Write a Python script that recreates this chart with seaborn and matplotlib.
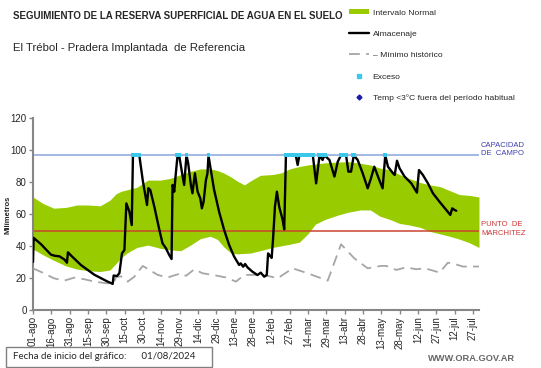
import matplotlib
matplotlib.use('agg')
import matplotlib.pyplot as plt
from matplotlib.patches import Patch, Rectangle
from matplotlib.lines import Line2D
import numpy as np
import pandas as pd
import seaborn as sns

# --- data (days since 01/08/2024, mm) ---
band_dias = [0, 8, 17, 27, 36, 45, 55, 63, 68, 72, 77, 85, 94, 104, 112, 121, 129, 137, 145, 151,
             156, 162, 167, 173, 178, 186, 196, 203, 210, 218, 225, 231, 239, 250, 258, 268, 276, 284, 292, 300,
             308, 317, 325, 333, 341, 349, 357, 365]
band_sup = [70.5, 66.5, 63.5, 64, 65.5, 65.5, 65, 68.5, 72.5, 74, 75, 76.5, 81, 81, 82, 84.5, 86.5, 88, 88, 87,
            85.5, 83, 80.5, 78, 80.5, 84, 84.5, 85.5, 88, 89.5, 90.5, 91, 91.8, 92.3, 92.5, 91.5, 90.5, 88.5, 87.5, 84.5,
            82, 79.5, 78, 77, 74.5, 72, 71.5, 70.5]
band_inf = [38, 34.5, 31, 27.5, 25.5, 24.5, 24, 25, 29, 32.5, 35.5, 39, 40.5, 38.5, 37.5, 37, 40.5, 44.5, 46, 44,
            39.5, 35.5, 35, 35.3, 35.5, 37, 39, 40, 41, 42.3, 47.5, 53.5, 56.5, 59.3, 61, 62.4, 62.4, 58.5, 56.5, 54,
            53, 51.5, 49, 47.5, 46, 44.2, 42, 39]

alm_dias = [0, 0.5, 6.6, 14.7, 18, 21.6, 25.7, 27.8, 28.6, 31.1, 39.3, 50.2, 61.1, 65.2, 66, 68.8, 70.7, 72.8, 74.8,
            76.4, 78.9, 80.8, 81.8, 87, 89.8, 93.3, 94.4, 96, 99.3, 103.4, 106, 108.8, 111.5, 113.4, 114.2, 115.6,
            116.9, 118.3, 119.6, 121.8, 123.7, 125.6, 127, 129.2, 130.5, 132.5, 134.7, 136.9, 138.2, 139.6, 141.5,
            142.8, 143.6, 145.5, 148.2, 152.3, 156.4, 160.5, 164.6, 168.7, 170, 172, 173.6, 175.5, 179.6, 183.7,
            186.4, 189.2, 191.3, 192.4, 194, 195.3, 196.4, 198, 199.6, 201.5, 204.3, 205.6, 207, 215, 216.6, 218,
            229, 231.7, 234.5, 237, 238.5, 242.6, 246.7, 249.4, 252, 256.2, 258.1, 260.3, 262.5, 265.7, 269.8,
            273.9, 276.6, 279.3, 283.4, 286.1, 288.3, 290.5, 294.6, 296, 297.9, 300, 304.1, 309.6, 314.2, 315.9,
            319.1, 323.2, 327.3, 332.7, 338.2, 341.5, 343.1, 345, 346.4]
alm_mm = [30, 45, 41, 34.5, 33.8, 33.5, 31.5, 29.5, 36, 34, 28, 22, 17.7, 16.3, 21.5, 21.2, 23, 35.3, 37.4,
          66.5, 61.3, 53, 96.5, 96.5, 81, 65.5, 76, 74.8, 64.4, 50, 41.6, 38.5, 34.3, 31.8, 78, 73.8,
          85.3, 96.5, 96.5, 86.3, 78, 96.5, 91.5, 78, 72.8, 85.3, 73.8, 69.7, 63.4, 67.5, 81,
          85.3, 96.5, 87.4, 75, 61.3, 50, 40.6, 33.3, 28.1, 29.1, 27, 28.7, 26.6, 23.9, 21.8,
          23.3, 20.8, 21.8, 35.3, 33.7, 32.5, 43.7, 64.4, 73.8, 64.4, 56.2, 50.3, 96.5, 96.5, 90.5, 96.5,
          96.5, 79, 96.5, 93.6, 96.5, 93.6, 83.2, 92.5, 96.5, 96.5, 86.3, 86.3, 96.5, 93.6, 85.3,
          75.9, 82.2, 89.4, 81.1, 75.9, 96.5, 89.4, 85.3, 84.2, 93.1, 88.4, 83.2, 79, 73.2, 87.3,
          84.2, 79, 72.8, 67.5, 62.4, 59.3, 63.4, 62.4, 61.9]

min_dias = [0, 9, 17, 25.5, 33.8, 42, 50.2, 61, 66, 68, 72, 77.5, 83, 89.8, 95.3, 102, 110.2, 117, 121.1, 125.2,
            132, 138.8, 147, 157.9, 166.1, 172.9, 183.8, 192, 200.3, 212.5, 224.8, 241.2, 252.1, 263, 273.9,
            284.8, 289.1, 297.3, 305.5, 313.6, 320.5, 327.3, 332.7, 339.5, 345, 351.8, 365]
min_mm = [26, 22.9, 19.8, 18.3, 20.2, 19.2, 17.7, 16.6, 17, 20.5, 21, 17.7, 20.8, 27.5, 25, 21.9, 20.3, 21.9, 22.9, 21.3,
          25.4, 22.9, 21.9, 20.3, 17.7, 21.9, 21.9, 21.3, 19.8, 26, 22.9, 18.3, 41, 32.2, 26,
          27.5, 27.5, 25, 26.6, 25.4, 26, 24.6, 23.3, 29.5, 28.7, 27.1, 27.1]

exceso_dias = [82, 83, 84, 85, 86, 87, 118, 119, 120, 125.6, 143.6,
               207, 208, 209, 210, 211, 212, 213, 214, 215, 218, 219, 220, 221, 222, 223, 224, 225, 226, 227,
               228, 229, 234, 235, 238, 239, 252, 253, 254, 255, 256, 262, 263, 288.3]

capacidad_campo = 96.5
punto_marchitez = 49.5

tick_dias = list(range(0, 361, 15))
tick_labels = ['01-ago', '16-ago', '31-ago', '15-sep', '30-sep', '15-oct', '30-oct', '14-nov', '29-nov',
               '14-dic', '29-dic', '13-ene', '28-ene', '12-feb', '27-feb', '14-mar', '29-mar', '13-abr',
               '28-abr', '13-may', '28-may', '12-jun', '27-jun', '12-jul', '27-jul']

# --- style ---
sns.set_style("white")
plt.rcParams['font.family'] = ['Liberation Sans', 'DejaVu Sans']

verde = '#99cc00'
gris_eje = '#868686'
cian = '#3cc8ea'

fig = plt.figure(figsize=(5.41, 3.68), dpi=100)
ax = fig.add_axes([0.061, 0.1576, 0.8244, 0.5228])

ax.fill_between(band_dias, band_inf, band_sup, color=verde, lw=0, zorder=1)
ax.axhline(capacidad_campo, color='#8aa6d8', lw=1.1, zorder=2)
ax.axhline(punto_marchitez, color='#c8452c', lw=1.1, zorder=2)

df_min = pd.DataFrame({'dia': min_dias, 'mm': min_mm})
sns.lineplot(data=df_min, x='dia', y='mm', ax=ax, color='#a6a6a6', lw=1.3,
             linestyle=(0, (6, 3.5)), zorder=3)

df_alm = pd.DataFrame({'dia': alm_dias, 'mm': alm_mm})
sns.lineplot(data=df_alm, x='dia', y='mm', ax=ax, color='black', lw=1.7, zorder=4)

sns.scatterplot(x=exceso_dias, y=[capacidad_campo] * len(exceso_dias), ax=ax, marker='s', s=7,
                color=cian, edgecolor='none', zorder=5)

ax.set_xlim(0, 365)
ax.set_ylim(0, 120)
ax.set_xticks(tick_dias)
ax.set_xticklabels(tick_labels, rotation=90, fontsize=7)
ax.set_yticks(range(0, 121, 20))
ax.tick_params(axis='y', labelsize=7, length=3, width=1, color=gris_eje, pad=1.5, left=True)
ax.tick_params(axis='x', length=3, width=1, color=gris_eje, pad=1.5, bottom=True)
ax.set_xlabel('')
ax.set_ylabel('')
for s in ['top', 'right']:
    ax.spines[s].set_visible(False)
for s in ['left', 'bottom']:
    ax.spines[s].set_color(gris_eje)
    ax.spines[s].set_linewidth(1.5)

fig.text(0.015, 0.415, 'Milímetros', rotation=90, fontsize=5.5, fontweight='bold', va='center', ha='center')

# titles
fig.text(0.024, 0.956, 'SEGUIMIENTO DE LA RESERVA SUPERFICIAL DE AGUA EN EL SUELO', fontsize=7,
         fontweight='bold', va='center')
fig.text(0.024, 0.87, 'El Trébol - Pradera Implantada  de Referencia', fontsize=8.2, va='center')

# right side labels
fig.text(0.889, 0.594, 'CAPACIDAD\nDE  CAMPO', fontsize=5.5, color='#4040b0', va='center', linespacing=1.25)
fig.text(0.889, 0.378, 'PUNTO  DE\nMARCHITEZ', fontsize=5.5, color='#cc3535', va='center', linespacing=1.25)

# legend
handles = [Patch(facecolor=verde, edgecolor='none'),
           Line2D([], [], color='black', lw=1.7),
           Line2D([], [], color='#a6a6a6', lw=1.3, linestyle=(0, (6, 3.5))),
           Line2D([], [], color=cian, marker='s', markersize=2.5, lw=0),
           Line2D([], [], color='#1a1aa8', marker='D', markersize=2.5, lw=0)]
labels = ['Intervalo Normal', 'Almacenaje', '– Mínimo histórico', 'Exceso',
          'Temp <3°C fuera del período habitual']
leg = fig.legend(handles, labels, loc='upper left', bbox_to_anchor=(0.645, 0.976), frameon=False,
                 fontsize=6.1, labelspacing=1.6, handlelength=2.4, handleheight=0.65,
                 handletextpad=0.4, borderpad=0, borderaxespad=0)

# footer
fig.patches.append(Rectangle((0.011, 0.003), 0.381, 0.054, transform=fig.transFigure,
                             facecolor='white', edgecolor='#808080', lw=1))
fig.text(0.024, 0.032, 'Fecha de inicio del gráfico:      01/08/2024', fontsize=7,
         family=['Lato', 'DejaVu Sans'], va='center')
fig.text(0.953, 0.025, 'WWW.ORA.GOV.AR', fontsize=6.7, fontweight='bold', color='#666666',
         va='center', ha='right')

fig.savefig('out.png', dpi=100)
